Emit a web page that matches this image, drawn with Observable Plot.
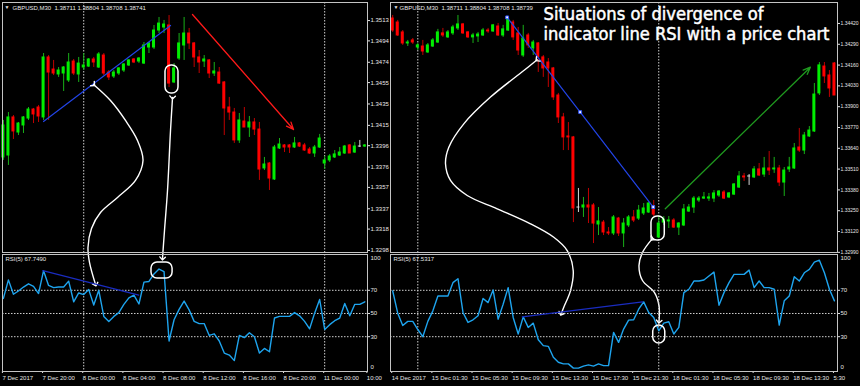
<!DOCTYPE html>
<html>
<head>
<meta charset="utf-8">
<script src="https://cdn.jsdelivr.net/npm/d3@7"></script>
<script src="https://cdn.jsdelivr.net/npm/@observablehq/plot@0.6"></script>
<style>
  html, body { margin: 0; padding: 0; background: #000; }
  #chart { position: relative; width: 860px; height: 386px; overflow: hidden; background: #000; }
</style>
</head>
<body>
<div id="chart"></div>
<script>
// ================= DATA =================
const leftHeader = "GBPUSD,M30  1.38711 1.38804 1.38708 1.38741";
const rightHeader = "GBPUSD,M30  1.38711 1.38804 1.38708 1.38739";
const leftRsiLabel = "RSI(5) 67.7490";
const rightRsiLabel = "RSI(5) 67.5317";
const titleLines = ["Situations of divergence of", "indicator line RSI with a price chart"];

// Left chart: GBPUSD M30, 7 Dec 2017 ... 11 Dec (bar index 0..72)
const leftOpen = [1.33850,1.33868,1.34224,1.34083,1.34149,1.34214,1.34298,1.34317,1.34224,1.34785,1.34672,1.34626,1.34635,1.34570,1.34747,1.34626,1.34691,1.34700,1.34766,1.34691,1.34803,1.34644,1.34607,1.34635,1.34663,1.34710,1.34766,1.34747,1.34728,1.34878,1.34878,1.35037,1.35065,1.35084,1.34551,1.34775,1.34897,1.35009,1.34916,1.34785,1.34747,1.34757,1.34635,1.34644,1.34551,1.34317,1.34270,1.34009,1.34186,1.34130,1.34177,1.34111,1.33747,1.33793,1.33644,1.33934,1.33962,1.33962,1.33943,1.33981,1.33962,1.33924,1.33887,1.33943,1.33793,1.33822,1.33850,1.33868,1.33887,1.33962,1.33896,1.33952,1.33952];
const leftHigh = [1.34196,1.34270,1.34242,1.34177,1.34233,1.34317,1.34308,1.34336,1.34822,1.34803,1.34757,1.34691,1.34700,1.34822,1.34766,1.34785,1.34822,1.34775,1.34785,1.34831,1.34822,1.34663,1.34663,1.34691,1.34728,1.34766,1.34775,1.34785,1.34925,1.34925,1.35084,1.35159,1.35131,1.35177,1.34728,1.35009,1.35159,1.35056,1.34925,1.34850,1.34803,1.34766,1.34738,1.34691,1.34560,1.34411,1.34308,1.34261,1.34317,1.34233,1.34214,1.34177,1.33850,1.33803,1.33962,1.34027,1.33971,1.33971,1.34037,1.33990,1.33981,1.33943,1.33962,1.34065,1.33859,1.33878,1.33915,1.33943,1.33962,1.33971,1.33990,1.34009,1.33971];
const leftLow = [1.33822,1.33775,1.34018,1.34055,1.34074,1.34196,1.34167,1.34177,1.34196,1.34196,1.34616,1.34598,1.34467,1.34551,1.34616,1.34551,1.34663,1.34691,1.34691,1.34682,1.34616,1.34570,1.34588,1.34616,1.34644,1.34700,1.34728,1.34728,1.34719,1.34822,1.34859,1.35009,1.35009,1.34504,1.34541,1.34757,1.34757,1.34859,1.34691,1.34635,1.34691,1.34588,1.34607,1.34532,1.34055,1.34196,1.33981,1.33981,1.34130,1.34037,1.34055,1.33635,1.33728,1.33541,1.33635,1.33924,1.33896,1.33887,1.33934,1.33943,1.33906,1.33878,1.33850,1.33934,1.33737,1.33803,1.33840,1.33859,1.33878,1.33887,1.33887,1.33943,1.33943];
const leftClose = [1.34149,1.34224,1.34093,1.34167,1.34224,1.34298,1.34252,1.34233,1.34785,1.34644,1.34635,1.34663,1.34691,1.34738,1.34635,1.34728,1.34710,1.34766,1.34738,1.34813,1.34635,1.34598,1.34644,1.34682,1.34719,1.34757,1.34738,1.34775,1.34897,1.34916,1.35037,1.35102,1.35093,1.34541,1.34682,1.34916,1.35009,1.34916,1.34785,1.34738,1.34766,1.34635,1.34654,1.34541,1.34308,1.34270,1.34009,1.34196,1.34130,1.34177,1.34111,1.33737,1.33784,1.33653,1.33943,1.33971,1.33943,1.33943,1.33981,1.33952,1.33915,1.33887,1.33943,1.34027,1.33822,1.33859,1.33878,1.33896,1.33952,1.33887,1.33952,1.33952,1.33962];
const leftRsi = [63.0,79.0,66.6,69.4,72.8,75.6,73.4,67.2,86.9,74.2,72.3,72.8,72.8,77.9,60.1,67.7,66.3,70.6,57.3,70.0,47.5,43.2,47.5,50.8,57.9,63.5,65.8,58.2,77.0,77.6,84.1,88.3,86.1,26.3,44.6,53.6,60.7,53.1,43.2,41.3,41.3,31.1,32.5,26.3,15.9,14.2,9.4,31.1,29.2,33.4,30.0,15.9,19.9,17.0,46.1,47.5,47.5,47.5,50.8,48.0,43.2,36.8,50.3,62.1,36.2,40.4,43.8,46.1,58.7,48.0,57.9,57.9,60.1];

// Right chart: GBPUSD M30, 14 Dec 2017 ... 18 Dec (bar index 0..88)
const rightOpen = [1.34451,1.34426,1.34364,1.34295,1.34314,1.34270,1.34276,1.34239,1.34276,1.34301,1.34358,1.34333,1.34358,1.34389,1.34414,1.34364,1.34333,1.34339,1.34345,1.34376,1.34370,1.34401,1.34345,1.34376,1.34426,1.34358,1.34220,1.34345,1.34264,1.34295,1.34208,1.34176,1.34139,1.33970,1.33833,1.33714,1.33708,1.33270,1.33270,1.33283,1.33283,1.33164,1.33176,1.33114,1.33108,1.33201,1.33108,1.33158,1.33208,1.33201,1.33233,1.33239,1.33276,1.33083,1.33176,1.33183,1.33189,1.33145,1.33158,1.33245,1.33270,1.33314,1.33326,1.33326,1.33326,1.33345,1.33364,1.33333,1.33351,1.33395,1.33464,1.33464,1.33458,1.33508,1.33476,1.33514,1.33508,1.33514,1.33426,1.33508,1.33514,1.33645,1.33626,1.33714,1.33745,1.33983,1.34151,1.34095,1.34170];
const rightHigh = [1.34470,1.34439,1.34376,1.34314,1.34326,1.34295,1.34314,1.34295,1.34326,1.34383,1.34389,1.34376,1.34408,1.34470,1.34420,1.34370,1.34358,1.34364,1.34389,1.34389,1.34414,1.34420,1.34408,1.34458,1.34439,1.34395,1.34408,1.34358,1.34314,1.34301,1.34220,1.34201,1.34145,1.33983,1.33858,1.33801,1.33714,1.33389,1.33333,1.33389,1.33295,1.33270,1.33189,1.33145,1.33220,1.33208,1.33201,1.33220,1.33251,1.33283,1.33295,1.33301,1.33314,1.33220,1.33214,1.33214,1.33201,1.33176,1.33289,1.33289,1.33339,1.33339,1.33364,1.33358,1.33376,1.33376,1.33376,1.33364,1.33420,1.33495,1.33483,1.33476,1.33526,1.33545,1.33583,1.33620,1.33583,1.33533,1.33520,1.33583,1.33670,1.33764,1.33739,1.33776,1.34045,1.34176,1.34176,1.34126,1.34176];
const rightLow = [1.34364,1.34339,1.34283,1.34276,1.34289,1.34251,1.34220,1.34233,1.34270,1.34295,1.34333,1.34326,1.34345,1.34376,1.34351,1.34326,1.34295,1.34301,1.34339,1.34358,1.34364,1.34339,1.34333,1.34370,1.34314,1.34220,1.34208,1.34264,1.34220,1.34114,1.34083,1.34020,1.33939,1.33795,1.33626,1.33626,1.33176,1.33239,1.33208,1.33170,1.33045,1.33095,1.33095,1.33095,1.33095,1.33089,1.33020,1.33145,1.33176,1.33189,1.33220,1.33233,1.33214,1.33076,1.33158,1.33139,1.33139,1.33095,1.33151,1.33239,1.33233,1.33301,1.33320,1.33308,1.33301,1.33333,1.33320,1.33326,1.33345,1.33389,1.33433,1.33408,1.33451,1.33464,1.33458,1.33470,1.33483,1.33401,1.33339,1.33489,1.33508,1.33614,1.33601,1.33708,1.33739,1.33970,1.34045,1.33958,1.33970];
const rightClose = [1.34376,1.34345,1.34295,1.34301,1.34301,1.34283,1.34245,1.34283,1.34314,1.34364,1.34345,1.34364,1.34395,1.34414,1.34358,1.34333,1.34345,1.34351,1.34376,1.34370,1.34408,1.34345,1.34383,1.34445,1.34333,1.34251,1.34326,1.34283,1.34301,1.34208,1.34139,1.34139,1.33958,1.33833,1.33708,1.33708,1.33264,1.33270,1.33283,1.33270,1.33170,1.33183,1.33114,1.33108,1.33208,1.33108,1.33170,1.33208,1.33189,1.33251,1.33264,1.33295,1.33226,1.33170,1.33195,1.33189,1.33145,1.33170,1.33258,1.33270,1.33326,1.33326,1.33333,1.33333,1.33358,1.33370,1.33326,1.33358,1.33414,1.33464,1.33458,1.33464,1.33508,1.33470,1.33514,1.33501,1.33514,1.33426,1.33501,1.33520,1.33639,1.33626,1.33720,1.33751,1.33976,1.34158,1.34089,1.34014,1.33970];
const rightRsi = [69.4,50.3,39.6,43.2,43.2,36.2,30.0,43.2,52.3,65.1,65.1,65.1,76.6,80.0,50.9,42.3,44.6,48.0,62.9,59.4,70.3,45.1,58.0,72.3,46.6,32.3,47.1,38.0,41.7,27.4,22.3,21.7,12.3,8.0,6.6,6.6,2.9,2.9,4.6,5.7,4.6,6.6,5.1,5.1,33.7,25.1,36.6,44.3,44.6,53.7,60.0,50.9,46.6,35.1,41.7,42.9,32.3,38.0,68.0,70.9,78.0,78.0,78.9,82.3,85.7,57.1,68.0,76.6,83.7,83.7,83.7,87.4,72.3,78.0,72.3,72.3,70.9,40.0,60.9,65.1,81.7,78.0,85.1,88.0,94.3,96.0,85.1,70.9,60.9];

// axis ticks and labels
const leftPriceTicks = [1.3513,1.3494,1.3474,1.3455,1.3435,1.3415,1.3396,1.3376,1.3357,1.3337,1.3318,1.3298];
const rightPriceTicks = [1.3442,1.3429,1.3416,1.3403,1.3390,1.3377,1.3364,1.3351,1.3338,1.3325,1.3312,1.3299];
const rsiLevels = [70, 50, 30];
const rsiBounds = [100, 0];
const leftTimeTicks = [0, 8, 16, 24, 32, 40, 48, 56, 64, 72.6];
const leftTimeLabels = ["7 Dec 2017","7 Dec 20:00","8 Dec 00:00","8 Dec 04:00","8 Dec 08:00","8 Dec 12:00","8 Dec 16:00","8 Dec 20:00","11 Dec 00:00","10:00"];
const rightTimeTicks = [0, 8, 16, 24, 32, 40, 48, 56, 64, 72, 80, 88];
const rightTimeLabels = ["14 Dec 2017","15 Dec 01:30","15 Dec 05:30","15 Dec 09:30","15 Dec 13:30","15 Dec 17:30","15 Dec 21:30","18 Dec 01:30","18 Dec 05:30","18 Dec 09:30","18 Dec 13:30","5:30"];
const leftSeparators = [16, 64];
const rightSeparators = [5, 53];

// annotations (bar index, price / RSI)
const leftPriceTrend = [{i: 7.99, p: 1.34186}, {i: 33.3, p: 1.35084}];
const leftRsiTrend = [{i: 7.85, v: 86.9}, {i: 26.97, v: 65.8}];
const leftRedArrow = [{i1: 37.67, p1: 1.35187, i2: 57.79, p2: 1.34111}];
const leftPriceCircle = [{i1: 32.29, i2: 34.88, p1: 1.34448, p2: 1.34710}];
const leftRsiCircle = [{i1: 29.5, i2: 33.7, v1: 80.2, v2: 94.0}];
const leftCurveA_i = [17.95,21.33,24.32,26.71,27.81,26.31,22.73,19.34,17.55,16.85,17.15,18.35];
const leftCurveA_p = [1.34532,1.34382,1.34196,1.34009,1.33822,1.33635,1.33476,1.33335,1.33186,1.33008,1.32868,1.32662];
const leftCurveB_i = [33.69,33.29,32.69,32.09,31.69];
const leftCurveB_p = [1.34411,1.34102,1.33541,1.33167,1.32905];

const rightPriceTrend = [{j: 22.8, p: 1.34458}, {j: 37.35, p: 1.33866}, {j: 51.9, p: 1.33273}];
const rightRsiTrend = [{j: 25.8, v: 47.1}, {j: 49.8, v: 60.0}];
const rightGreenArrow = [{j1: 54.3, p1: 1.33262, j2: 83.2, p2: 1.34147}];
const rightPriceCircle = [{j1: 51.55, j2: 54.2, p1: 1.33064, p2: 1.33214}];
const rightRsiCircle = [{j1: 51.9, j2: 54.3, v1: 24.1, v2: 39.7}];
const rightCurveC_j = [28.78,26.12,19.48,14.16,11.18,10.52,11.51,14.84,20.82,27.45,32.09,34.76,35.96,35.42,34.08,33.57];
const rightCurveC_p = [1.34193,1.34126,1.33960,1.33793,1.33647,1.33543,1.33439,1.33345,1.33262,1.33168,1.33084,1.33001,1.32876,1.32751,1.32647,1.32606];
const rightCurveD_j = [51.69,49.76,49.06,49.76,52.15,53.05,53.05];
const rightCurveD_p = [1.33074,1.32989,1.32907,1.32814,1.32739,1.32657,1.32557];

// ================= STYLE =================
const FONT = "'Liberation Sans', Arial, sans-serif";
const TEXT = "#e6e6e6";
const FRAME = "#c4c4c4";
const GRID = "#cfcfcf";
const BODY = {up: "#00ee00", down: "#ff0000", flat: "#d8d8d8"};
const WICK = {up: "#18b018", down: "#c00000", flat: "#d8d8d8"};
const RSI_COLOR = "#1ea4ee";
const TREND = "#2244e6";
const RSI_TREND = "#1a2cc0";

const leftX = [-0.18, 72.53];
const rightX = [-0.44, 88.61];
const leftY = [1.32961, 1.35299];
const rightY = [1.32989, 1.34551];
const rsiY = [0, 100.86];

function candleRows(open, high, low, close) {
  return open.map((o, i) => ({i, o, h: high[i], l: low[i], c: close[i],
    k: close[i] > o ? "up" : close[i] < o ? "down" : "flat"}));
}
function curve(id, xs, ys) { return xs.map((x, k) => ({id, x, y: ys[k]})); }

function baseStyle(left, top) {
  return {background: "transparent", overflow: "visible", position: "absolute",
    left: left + "px", top: top + "px", color: TEXT, fontFamily: FONT, fontSize: "6px"};
}

function pricePanel(p) {
  const rows = candleRows(p.open, p.high, p.low, p.close);
  return Plot.plot({
    width: p.width, height: 253,
    marginTop: 2, marginRight: 23, marginBottom: 1, marginLeft: 2,
    x: {domain: p.xDomain, axis: null},
    y: {domain: p.yDomain, axis: null},
    color: {type: "identity"},
    style: baseStyle(p.left, 0),
    marks: [
      Plot.ruleX(p.separators, {stroke: GRID, strokeDasharray: "1.5,1.5"}),
      Plot.ruleX(rows, {x: "i", y1: "l", y2: "h", stroke: d => WICK[d.k], strokeWidth: 1}),
      Plot.rect(rows, {x1: d => d.i - 0.3, x2: d => d.i + 0.3, y1: "o", y2: "c",
        fill: d => BODY[d.k], insetTop: -0.5, insetBottom: -0.5}),
      ...p.extra,
      Plot.text(["\u25BC"], {text: d => d, frameAnchor: "top-left", dx: p.triDx, dy: 3, fontSize: 5, textAnchor: "start", lineAnchor: "top", fill: TEXT}),
      Plot.text([p.header], {text: d => d, frameAnchor: "top-left", dx: p.headDx, dy: 3, fontSize: 6, textAnchor: "start", lineAnchor: "top", fill: TEXT}),
      Plot.axisY(p.ticks, {anchor: "right", tickSize: 2, tickPadding: 1, tickFormat: p.tickFormat, fontSize: p.axisFont, color: TEXT}),
      Plot.frame({stroke: FRAME})
    ]
  });
}

function rsiPanel(p) {
  const labelMap = new Map(p.timeTicks.map((t, k) => [t, p.timeLabels[k]]));
  return Plot.plot({
    width: p.width, height: 134,
    marginTop: 2, marginRight: 23, marginBottom: 15, marginLeft: 2,
    x: {domain: p.xDomain, axis: null},
    y: {domain: rsiY, axis: null},
    style: baseStyle(p.left, 252),
    marks: [
      Plot.ruleY(rsiLevels, {stroke: GRID, strokeDasharray: "1.5,1.5"}),
      Plot.ruleX(p.separators, {stroke: GRID, strokeDasharray: "1.5,1.5"}),
      Plot.line(p.rsi, {x: (d, i) => i, y: d => d, stroke: RSI_COLOR, strokeWidth: 1.4}),
      ...p.extra,
      Plot.text([p.label], {text: d => d, frameAnchor: "top-left", dx: 3, dy: 2, fontSize: 6, textAnchor: "start", lineAnchor: "top", fill: TEXT}),
      Plot.axisY(rsiLevels, {anchor: "right", tickSize: 2, tickPadding: 1, fontSize: 6, color: TEXT}),
      Plot.text([rsiBounds[0]], {y: d => d, text: d => String(d), frameAnchor: "right", dx: 3, dy: 3, fontSize: 6, textAnchor: "start", fill: TEXT}),
      Plot.text([rsiBounds[1]], {y: d => d, text: d => String(d), frameAnchor: "right", dx: 3, dy: -4, fontSize: 6, textAnchor: "start", fill: TEXT}),
      Plot.axisX(p.timeTicks, {anchor: "bottom", tickSize: 2, tickPadding: 2, textAnchor: "start", dx: -1,
        tickFormat: d => labelMap.get(d), fontSize: 6, color: TEXT}),
      Plot.frame({stroke: FRAME})
    ]
  });
}

const whiteCurve = {x: "x", y: "y", z: "id", curve: "catmull-rom", stroke: "white", strokeWidth: 1.4,
  markerStart: "arrow", markerEnd: "arrow"};

const chart = document.getElementById("chart");

// ----- left -----
chart.appendChild(pricePanel({
  left: 0, width: 390, xDomain: leftX, yDomain: leftY,
  open: leftOpen, high: leftHigh, low: leftLow, close: leftClose,
  ticks: leftPriceTicks, tickFormat: d => d.toFixed(4), axisFont: 6, separators: leftSeparators,
  header: leftHeader, triDx: 2, headDx: 10,
  extra: [
    Plot.line(leftPriceTrend, {x: "i", y: "p", stroke: TREND, strokeWidth: 1.2}),
    Plot.arrow(leftRedArrow, {x1: "i1", y1: "p1", x2: "i2", y2: "p2", stroke: "#ff1a1a", strokeWidth: 1.3, headLength: 9, headAngle: 45}),
    Plot.rect(leftPriceCircle, {x1: "i1", x2: "i2", y1: "p1", y2: "p2", rx: 6, fill: "none", stroke: "white", strokeWidth: 1.5}),
    Plot.line([...curve("a", leftCurveA_i, leftCurveA_p), ...curve("b", leftCurveB_i, leftCurveB_p)], whiteCurve)
  ]
}));
chart.appendChild(rsiPanel({
  left: 0, width: 390, xDomain: leftX, rsi: leftRsi, label: leftRsiLabel,
  separators: leftSeparators, timeTicks: leftTimeTicks, timeLabels: leftTimeLabels,
  extra: [
    Plot.line(leftRsiTrend, {x: "i", y: "v", stroke: RSI_TREND, strokeWidth: 1.2}),
    Plot.rect(leftRsiCircle, {x1: "i1", x2: "i2", y1: "v1", y2: "v2", rx: 6, fill: "none", stroke: "white", strokeWidth: 1.5})
  ]
}));

// ----- right -----
const rightPrice = pricePanel({
  left: 388, width: 472, xDomain: rightX, yDomain: rightY,
  open: rightOpen, high: rightHigh, low: rightLow, close: rightClose,
  ticks: rightPriceTicks, tickFormat: d => d.toFixed(5), axisFont: 5, separators: rightSeparators,
  header: rightHeader, triDx: 3, headDx: 9,
  extra: [
    Plot.line(rightPriceTrend, {x: "j", y: "p", stroke: TREND, strokeWidth: 1.2}),
    Plot.dot(rightPriceTrend, {x: "j", y: "p", symbol: "square", r: 1.6, stroke: "#3355ff", fill: "white", strokeWidth: 1}),
    Plot.arrow(rightGreenArrow, {x1: "j1", y1: "p1", x2: "j2", y2: "p2", stroke: "#1f9a1f", strokeWidth: 1.3, headLength: 9, headAngle: 45}),
    Plot.rect(rightPriceCircle, {x1: "j1", x2: "j2", y1: "p1", y2: "p2", rx: 6, fill: "none", stroke: "white", strokeWidth: 1.5}),
    Plot.line([...curve("c", rightCurveC_j, rightCurveC_p), ...curve("d", rightCurveD_j, rightCurveD_p)], whiteCurve),
    Plot.text([titleLines[0]], {text: d => d, frameAnchor: "top-left", dx: 153, dy: 5, fontSize: 17, fontFamily: "DejaVu Sans",
      textAnchor: "start", lineAnchor: "top", fill: "white", stroke: "white", strokeWidth: 0.5}),
    Plot.text([titleLines[1]], {text: d => d, frameAnchor: "top-left", dx: 153, dy: 25, fontSize: 17, fontFamily: "DejaVu Sans",
      textAnchor: "start", lineAnchor: "top", fill: "white", stroke: "white", strokeWidth: 0.5})
  ]
});
chart.appendChild(rightPrice);
const titleWidths = [220, 286];
d3.select(rightPrice).selectAll("text").each(function() {
  const k = titleLines.indexOf(this.textContent);
  if (k >= 0) {
    this.setAttribute("textLength", titleWidths[k]);
    this.setAttribute("lengthAdjust", "spacingAndGlyphs");
  }
});
chart.appendChild(rsiPanel({
  left: 388, width: 472, xDomain: rightX, rsi: rightRsi, label: rightRsiLabel,
  separators: rightSeparators, timeTicks: rightTimeTicks, timeLabels: rightTimeLabels,
  extra: [
    Plot.line(rightRsiTrend, {x: "j", y: "v", stroke: RSI_TREND, strokeWidth: 1.2}),
    Plot.rect(rightRsiCircle, {x1: "j1", x2: "j2", y1: "v1", y2: "v2", rx: 6, fill: "none", stroke: "white", strokeWidth: 1.5})
  ]
}));
</script>
</body>
</html>
